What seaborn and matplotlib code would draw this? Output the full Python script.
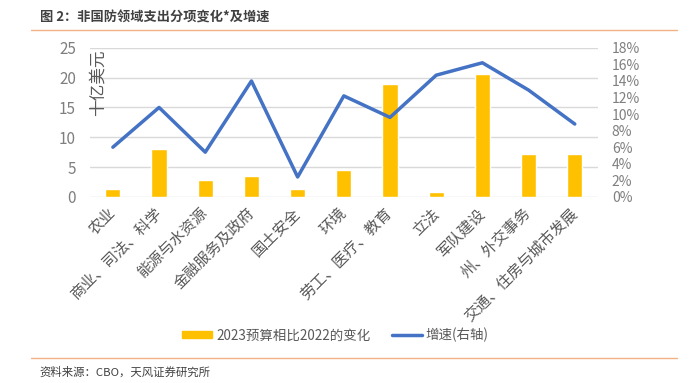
import matplotlib
matplotlib.use("Agg")
import matplotlib.pyplot as plt
import numpy as np
import pandas as pd
import seaborn as sns
from matplotlib.lines import Line2D
from matplotlib.patches import Patch

# ── data ──────────────────────────────────────────────────────────────────────
categories = ["农业", "商业、司法、科学", "能源与水资源", "金融服务及政府",
              "国土安全", "环境", "劳工、医疗、教育", "立法", "军队建设",
              "州、外交事务", "交通、住房与城市发展"]
change_bn = [1.4, 8.1, 2.8, 3.5, 1.35, 4.5, 19.0, 0.8, 20.7, 7.2, 7.2]
growth_pct = [6.0, 10.8, 5.4, 14.0, 2.4, 12.2, 9.6, 14.7, 16.2, 12.9, 8.8]
left_ticks = [0, 5, 10, 15, 20, 25]
right_ticks = [0, 2, 4, 6, 8, 10, 12, 14, 16, 18]

title = "图 2：非国防领域支出分项变化*及增速"
source = "资料来源：CBO，天风证券研究所"
bar_label = "2023预算相比2022的变化"
line_label = "增速(右轴)"

BAR_C = "#FFC000"
LINE_C = "#4472C4"
TXT_C = "#7F7F7F"
RULE_C = "#F4B183"

sns.set_theme(style="white")
plt.rcParams["font.family"] = ["Noto Sans CJK SC", "DejaVu Sans"]

df = pd.DataFrame({"cat": categories, "pos": np.arange(len(categories)),
                   "change": change_bn, "growth": growth_pct})

fig = plt.figure(figsize=(6.96, 3.83), dpi=100)
ax = fig.add_axes([0.129, 0.486, 0.73, 0.389])

sns.barplot(data=df, x="cat", y="change", color=BAR_C, width=0.33,
            saturation=1, ax=ax, zorder=2)
ax.set_ylim(0, 25)
ax.set_yticks(left_ticks)
ax.set_xlim(-0.5, len(categories) - 0.5)
ax.grid(axis="y", color="#D9D9D9", lw=1, zorder=0)
ax.set_axisbelow(True)
for s in ax.spines.values():
    s.set_visible(False)
ax.set(xlabel="", ylabel="")
ax.tick_params(axis="y", colors=TXT_C, labelsize=11, length=0, pad=10)
ax.tick_params(axis="x", length=0, pad=10)
ax.set_xticks(range(len(categories)))
ax.set_xticklabels(categories, rotation=45, ha="right", va="center",
                   rotation_mode="anchor", fontsize=11, color="#595959")

ax2 = ax.twinx()
sns.lineplot(data=df, x="pos", y="growth", color=LINE_C, lw=2.5, ax=ax2)
ax2.set_ylim(0, 18)
ax2.set_yticks(right_ticks)
ax2.set_yticklabels([f"{t}%" for t in right_ticks])
ax2.tick_params(axis="y", colors=TXT_C, labelsize=10, length=0, pad=10)
ax2.set_ylabel("")
for s in ax2.spines.values():
    s.set_visible(False)
ax2.grid(False)

ax.text(0.016, 0.99, "十亿美元", transform=ax.transAxes, rotation=90,
        ha="center", va="top", fontsize=12, color="#595959")

# ── frame texts ───────────────────────────────────────────────────────────────
fig.text(0.057, 0.953, title, fontsize=9.5, fontweight="bold",
         color="#404040", va="center")
fig.add_artist(Line2D([0.045, 0.973], [0.922, 0.922], color=RULE_C, lw=1))
fig.add_artist(Line2D([0.045, 0.973], [0.065, 0.065], color=RULE_C, lw=1))
fig.text(0.057, 0.028, source, fontsize=8.2, color="#404040", va="center")

handles = [Patch(color=BAR_C), Line2D([], [], color=LINE_C, lw=2.5)]
fig.legend(handles, [bar_label, line_label], loc="center",
           bbox_to_anchor=(0.482, 0.125), ncol=2, frameon=False,
           fontsize=9.7, labelcolor="#595959", handlelength=2.2,
           handleheight=0.5, columnspacing=1.6, handletextpad=0.3)

fig.savefig("out.png", dpi=100)
